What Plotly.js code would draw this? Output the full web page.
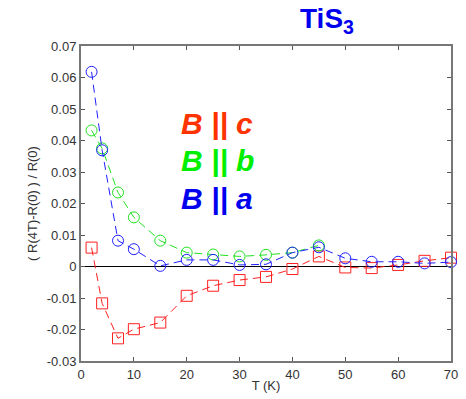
<!DOCTYPE html>
<html><head><meta charset="utf-8">
<script src="https://cdn.plot.ly/plotly-3.0.1.min.js"></script>
<style>html,body{margin:0;padding:0;background:#fff}#chart{width:466px;height:399px}</style>
</head><body><div id="chart"></div>
<script>
const T = [2, 4, 7, 10, 15, 20, 25, 30, 35, 40, 45, 50, 55, 60, 65, 70];
const Bc = [0.0060, -0.0117, -0.0228, -0.0199, -0.0178, -0.0093, -0.0061, -0.0043, -0.0033, -0.0008, 0.0032, -0.0003, -0.0005, 0.0005, 0.0018, 0.0028];
const Tb = [2, 4, 7, 10, 15, 20, 25, 30, 35, 40, 45];
const Bb = [0.0432, 0.0375, 0.0235, 0.0156, 0.0082, 0.0044, 0.0038, 0.0032, 0.0037, 0.0044, 0.0067];
const Ba = [0.0618, 0.0369, 0.0082, 0.0055, 0.0002, 0.0021, 0.0021, 0.0005, 0.0007, 0.0044, 0.0061, 0.0026, 0.0015, 0.0015, 0.0010, 0.0014];
const yTicks = [-0.03, -0.02, -0.01, 0, 0.01, 0.02, 0.03, 0.04, 0.05, 0.06, 0.07];
const yTickText = ["-0.03", "-0.02", "-0.01", "0", "0.01", "0.02", "0.03", "0.04", "0.05", "0.06", "0.07"];
const xTicks = [0, 10, 20, 30, 40, 50, 60, 70];

const FONT = "Liberation Sans, Arial, sans-serif";
function tr(x, y, color, sym) {
  return {x: x, y: y, type: 'scatter', mode: 'lines+markers',
    line: {color: color, width: 1, dash: '8px,5px'},
    marker: {symbol: sym, size: 11, color: color, line: {color: color, width: 1}},
    hoverinfo: 'none', showlegend: false, cliponaxis: false};
}
const data = [
  {x: [0, 70], y: [0, 0], type: 'scatter', mode: 'lines', line: {color: '#000', width: 1.2}, showlegend: false, hoverinfo: 'none'},
  tr(T, Bc, '#ff2020', 'square-open'),
  tr(Tb, Bb, '#20e020', 'circle-open'),
  tr(T, Ba, '#2020ff', 'circle-open')
];
const layout = {
  width: 466, height: 399,
  margin: {l: 81, r: 15, t: 46, b: 38},
  paper_bgcolor: '#fff', plot_bgcolor: '#fff',
  font: {family: FONT, size: 13, color: '#333'},
  xaxis: {range: [0, 70], tickvals: xTicks, ticks: 'inside', ticklen: 4, tickcolor: '#555',
    showline: true, linecolor: '#777', linewidth: 2, mirror: 'ticks', showgrid: false, zeroline: false,
    tickfont: {size: 13, color: '#333'},
    title: {text: 'T (K)', font: {size: 13, color: '#333'}, standoff: 0}},
  yaxis: {range: [-0.03, 0.07], tickvals: yTicks, ticktext: yTickText, ticks: 'inside', ticklen: 4, tickcolor: '#555',
    showline: true, linecolor: '#777', linewidth: 2, mirror: 'ticks', showgrid: false, zeroline: false,
    tickfont: {size: 13, color: '#333'},
    title: {text: '( R(4T)-R(0) ) / R(0)', font: {size: 13, color: '#333'}, standoff: 6}},
  annotations: [
    {text: '<b>TiS<sub>3</sub></b>', xref: 'paper', yref: 'paper', x: 0.665, y: 1.02, xanchor: 'center', yanchor: 'bottom',
     showarrow: false, font: {family: FONT, size: 28, color: '#0000ee'}},
    {text: '<b><i>B || c</i></b>', xref: 'x', yref: 'y', x: 18.5, y: 0.0455, xanchor: 'left', yanchor: 'middle',
     showarrow: false, font: {family: FONT, size: 30, color: '#ff3300'}},
    {text: '<b><i>B || b</i></b>', xref: 'x', yref: 'y', x: 18.5, y: 0.0335, xanchor: 'left', yanchor: 'middle',
     showarrow: false, font: {family: FONT, size: 30, color: '#00ee00'}},
    {text: '<b><i>B || a</i></b>', xref: 'x', yref: 'y', x: 18.5, y: 0.0215, xanchor: 'left', yanchor: 'middle',
     showarrow: false, font: {family: FONT, size: 30, color: '#0000ee'}}
  ]
};
Plotly.newPlot('chart', data, layout, {displayModeBar: false, staticPlot: true});
</script></body></html>
